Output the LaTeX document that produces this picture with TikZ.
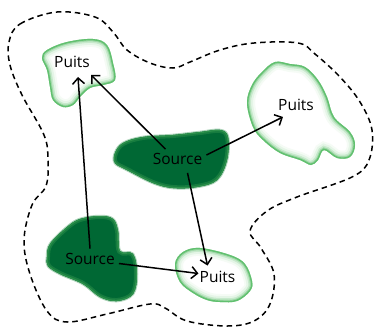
\documentclass[tikz,border=0pt]{standalone}
\usepackage{fontspec}
\setmainfont{Open Sans}
\usetikzlibrary{arrows.meta}
\definecolor{srcdark}{RGB}{0,104,52}
\definecolor{srcrim}{RGB}{45,145,75}
\definecolor{puitsgreen}{RGB}{80,185,95}
\newcommand\puitsblob[1]{%
  \begin{scope}
    \clip plot[smooth cycle,tension=0.6] coordinates{#1};
    \fill[white] plot[smooth cycle,tension=0.6] coordinates{#1};
    \draw[line width=16pt,puitsgreen!6] plot[smooth cycle,tension=0.6] coordinates{#1};
    \draw[line width=12pt,puitsgreen!15] plot[smooth cycle,tension=0.6] coordinates{#1};
    \draw[line width=8pt,puitsgreen!32] plot[smooth cycle,tension=0.6] coordinates{#1};
    \draw[line width=5pt,puitsgreen!55] plot[smooth cycle,tension=0.6] coordinates{#1};
    \draw[line width=2.8pt,puitsgreen!90] plot[smooth cycle,tension=0.6] coordinates{#1};
  \end{scope}}
\newcommand\sourceblob[1]{%
  \draw[line width=2.5pt,srcrim!40] plot[smooth cycle,tension=0.6] coordinates{#1};
  \fill[srcdark] plot[smooth cycle,tension=0.6] coordinates{#1};
  \begin{scope}
    \clip plot[smooth cycle,tension=0.6] coordinates{#1};
    \draw[line width=6pt,srcrim!50!srcdark] plot[smooth cycle,tension=0.6] coordinates{#1};
    \draw[line width=2.5pt,srcrim] plot[smooth cycle,tension=0.6] coordinates{#1};
  \end{scope}}
\begin{document}
\begin{tikzpicture}[x=1pt,y=-1pt,
  labeltext/.style={font=\fontsize{15.5}{18}\selectfont,inner sep=4pt},
  conn/.style={line width=1.5pt,-{Straight Barb[length=6pt,width=12pt,line width=1.5pt]}},
  border/.style={line width=1.5pt,dash pattern=on 5.5pt off 4pt}]
\useasboundingbox (0,0) rectangle (374,327);
% dashed outline
\draw[border] plot[smooth cycle,tension=0.6] coordinates{
 (9,42) (20,24) (57,12) (95,17) (113,32) (127,50) (150,63) (173,68) (190,62)
 (220,50) (254,43) (298,43) (315,54) (340,77) (360,102) (372,130) (369,160)
 (352,177) (297,197) (267,211) (250,231) (261,248) (274,274) (270,304)
 (254,321) (227,326) (187,321) (165,308) (150,304) (107,314) (67,322)
 (47,311) (30,274) (24,240) (32,205) (46,186) (48,160) (44,135) (22,95) (10,65)};
% sinks
\puitsblob{(42,58) (47,50) (67,42) (93,39) (107,45) (113,63) (115,80) (103,85) (90,88) (80,97) (73,105) (63,107) (53,100) (50,87) (47,70)}
\puitsblob{(247,103) (252,85) (262,72) (275,62) (290,64) (305,67) (318,80) (327,97) (334,117) (350,132) (355,145) (350,157) (337,158) (324,150) (318,160) (311,165) (300,160) (280,153) (263,140) (253,127)}
\puitsblob{(175,264) (183,252) (200,248) (230,255) (245,264) (252,281) (250,291) (237,301) (220,302) (207,300) (193,293) (180,282)}
% sources
\sourceblob{(115,153) (123,143) (143,137) (173,135) (200,132) (220,130) (228,137) (227,160) (217,180) (197,187) (173,188) (153,183) (127,170) (115,163)}
\sourceblob{(47,257) (50,244) (67,227) (80,219) (100,216) (113,219) (118,231) (120,251) (133,254) (137,274) (133,294) (117,301) (100,297) (83,284) (60,274) (48,266)}
% labels
\node[labeltext] (pTL) at (72,62) {Puits};
\node[labeltext] (pTR) at (296,105) {Puits};
\node[labeltext] (pB) at (217.5,276.5) {Puits};
\node[labeltext] (sM) at (177.5,159) {Source};
\node[labeltext] (sBL) at (90,258.5) {Source};
% arrows
\draw[conn] (sBL.north) -- ([xshift=6pt,yshift=-5pt]pTL.south);
\draw[conn] ([xshift=-12pt]sM.north) -- ([xshift=-3pt,yshift=-3pt]pTL.south east);
\draw[conn] ([yshift=4pt]sM.east) -- ([xshift=9pt,yshift=-2pt]pTR.south west);
\draw[conn] ([xshift=10pt,yshift=-4pt]sM.south) -- ([xshift=-10pt,yshift=1pt]pB.north);
\draw[conn] ([yshift=-5pt]sBL.east) -- ([xshift=3pt,yshift=3pt]pB.west);
\end{tikzpicture}
\end{document}
